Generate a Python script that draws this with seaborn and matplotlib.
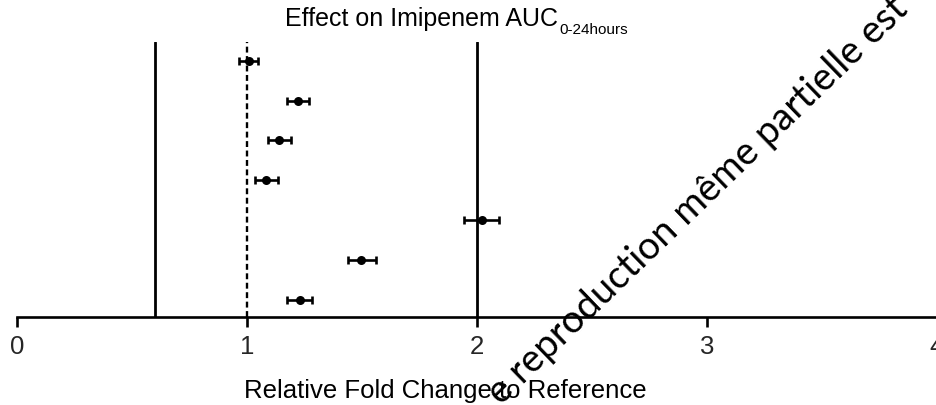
import matplotlib
matplotlib.use("Agg")
import matplotlib.pyplot as plt
import numpy as np
import seaborn as sns

# Geometric mean ratios (with 90% CI) of imipenem AUC, one row per comparison,
# listed top to bottom
rows = [7, 6, 5, 4, 3, 2, 1]
ratio = [1.011, 1.223, 1.142, 1.084, 2.022, 1.497, 1.232]
ci_low = [0.967, 1.174, 1.093, 1.035, 1.945, 1.439, 1.174]
ci_high = [1.048, 1.271, 1.193, 1.137, 2.097, 1.561, 1.283]

# Reference bounds and the line of no effect
bound_lines = [0.6, 2.0]
no_effect = 1.0
xticks = [0, 1, 2, 3, 4]

sns.set_theme(style="white")
plt.rcParams["font.family"] = ["Liberation Sans", "DejaVu Sans"]

W, H = 936, 405
fig = plt.figure(figsize=(W / 100, H / 100), dpi=100)
ax = fig.add_axes([16.7 / W, 88.3 / H, 920 / W, 274.7 / H])
ax.set_xlim(0, 4)
ax.set_ylim(0.581, 7.469)

for b in bound_lines:
    ax.axvline(b, color="black", lw=2.0, zorder=1)
ax.axvline(no_effect, color="black", lw=1.7, ls=(0, (2.5, 1.5)), zorder=1)

r = np.array(ratio)
xerr = [r - np.array(ci_low), np.array(ci_high) - r]
ax.errorbar(r, rows, xerr=xerr, fmt="none", ecolor="black",
            elinewidth=1.9, capsize=3.2, capthick=1.9, zorder=2)
sns.scatterplot(x=ratio, y=rows, color="black", s=42, linewidth=0,
                ax=ax, zorder=3, legend=False)

sns.despine(ax=ax, left=True, top=True, right=True)
ax.spines["bottom"].set_linewidth(1.9)
ax.spines["bottom"].set_color("black")
ax.set_yticks([])
ax.set_xticks(xticks)
ax.set_xticklabels([str(t) for t in xticks])
ax.tick_params(axis="x", direction="out", length=7.2, width=1.9,
               color="black", labelsize=18.5, pad=6, bottom=True)
ax.set_xlabel("")
ax.set_ylabel("")

title = fig.text(285 / W, 1 - 26 / H, "Effect on Imipenem AUC",
                 fontsize=18, ha="left", va="baseline", color="black")
ax.annotate("0-24hours", xy=(1, 0), xycoords=title,
            xytext=(0.8, -2), textcoords="offset points",
            fontsize=11, ha="left", va="baseline", color="black")

fig.text(445.5 / W, 1 - 398.3 / H, "Relative Fold Change to Reference",
         fontsize=18.5, ha="center", va="baseline", color="black")

# Diagonal notice across the lower right of the figure
fig.text(501 / W, 1 - 406 / H, "e reproduction même partielle est",
         fontsize=27.5, rotation=44, rotation_mode="anchor",
         ha="left", va="baseline", color="black",
         family=["Lato", "DejaVu Sans"])

fig.savefig("out.png", dpi=100)
